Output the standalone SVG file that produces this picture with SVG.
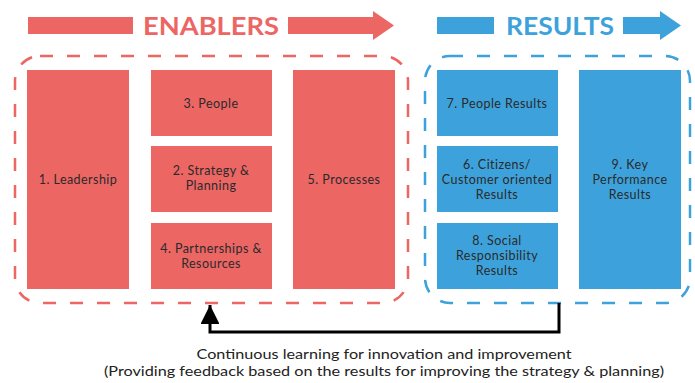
<svg xmlns="http://www.w3.org/2000/svg" width="695" height="383" viewBox="0 0 695 383">
<style>
.red{fill:#EC6664}
.blue{fill:#3DA2DC}
.lbl{font-family:Lato,"Open Sans","Liberation Sans",sans-serif;font-size:12.5px;letter-spacing:0.45px;fill:#2a2a2a;text-anchor:middle}
.hdr{font-family:Lato,"Open Sans","Liberation Sans",sans-serif;font-size:25px;font-weight:700;text-anchor:middle}
.frame{fill:none;stroke-width:2.5;stroke-dasharray:13 14}
.cap{font-family:Lato,"Open Sans","Liberation Sans",sans-serif;font-size:14px;fill:#222;text-anchor:middle}
</style>
<defs>
<marker id="ah" viewBox="0 0 10 10" refX="10" refY="5" markerWidth="6.3" markerHeight="6.3" orient="auto" markerUnits="strokeWidth"><path d="M0,0 L10,5 L0,10 Z" fill="#000"/></marker>
</defs>
<g id="header-enablers">
<rect class="red" x="28" y="17" width="105" height="17"/>
<text class="hdr" x="211" y="35" fill="#EC6664" textLength="136" lengthAdjust="spacingAndGlyphs">ENABLERS</text>
<rect class="red" x="288" y="17" width="86" height="17"/>
<path class="red" d="M373,11 L394,25.5 L373,40 Z"/>
</g>
<g id="header-results">
<rect class="blue" x="437" y="17" width="57" height="17"/>
<text class="hdr" x="560" y="35" fill="#3DA2DC" textLength="108" lengthAdjust="spacingAndGlyphs">RESULTS</text>
<rect class="blue" x="623" y="17" width="38" height="17"/>
<path class="blue" d="M660,11 L681,25.5 L660,40 Z"/>
</g>
<g id="enablers-frame"><rect class="frame" x="15" y="56" width="393" height="247" rx="25" stroke="#EC6664"/></g>
<g id="results-frame"><rect class="frame" x="425" y="56" width="265" height="247" rx="25" stroke="#3DA2DC"/></g>
<g id="n1"><rect class="red" x="27" y="70" width="102" height="219"/><text class="lbl" x="78" y="184">1. Leadership</text></g>
<g id="n3"><rect class="red" x="151" y="70" width="121" height="66"/><text class="lbl" x="211" y="108">3. People</text></g>
<g id="n2"><rect class="red" x="151" y="146" width="121" height="66"/><text class="lbl" x="211" y="175">2. Strategy &amp;</text><text class="lbl" x="211" y="190">Planning</text></g>
<g id="n4"><rect class="red" x="151" y="223" width="121" height="66"/><text class="lbl" x="211" y="253">4. Partnerships &amp;</text><text class="lbl" x="211" y="268">Resources</text></g>
<g id="n5"><rect class="red" x="293" y="70" width="102" height="219"/><text class="lbl" x="344" y="184">5. Processes</text></g>
<g id="n7"><rect class="blue" x="437" y="70" width="121" height="66"/><text class="lbl" x="497" y="108">7. People Results</text></g>
<g id="n6"><rect class="blue" x="437" y="146" width="121" height="66"/><text class="lbl" x="497" y="169">6. Citizens/</text><text class="lbl" x="497" y="184">Customer oriented</text><text class="lbl" x="497" y="199">Results</text></g>
<g id="n8"><rect class="blue" x="437" y="223" width="121" height="66"/><text class="lbl" x="497" y="245">8. Social</text><text class="lbl" x="497" y="260">Responsibility</text><text class="lbl" x="497" y="275">Results</text></g>
<g id="n9"><rect class="blue" x="579" y="70" width="102" height="219"/><text class="lbl" x="630" y="169">9. Key</text><text class="lbl" x="630" y="184">Performance</text><text class="lbl" x="630" y="199">Results</text></g>
<g id="connectors">
<path d="M559,303 L559,332 L210,332 L210,305" fill="none" stroke="#000" stroke-width="3" marker-end="url(#ah)"/>
</g>
<g id="caption">
<text class="cap" x="384" y="359" textLength="375" lengthAdjust="spacingAndGlyphs">Continuous learning for innovation and improvement</text>
<text class="cap" x="384" y="376" textLength="560" lengthAdjust="spacingAndGlyphs">(Providing feedback based on the results for improving the strategy &amp; planning)</text>
</g>
</svg>
